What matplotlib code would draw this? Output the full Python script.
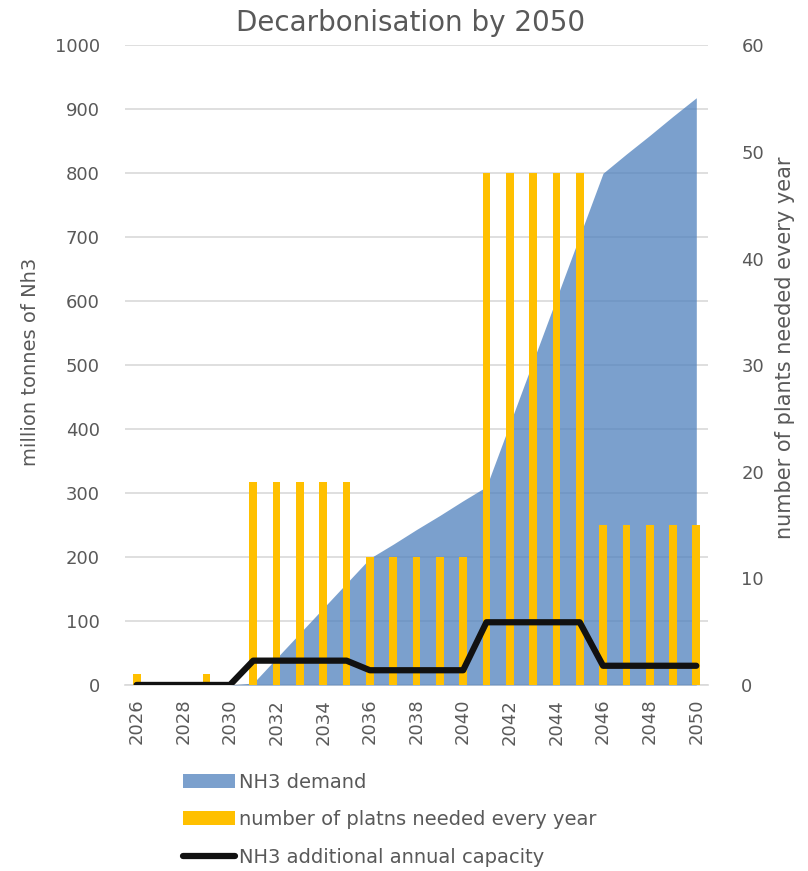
import numpy as np
import matplotlib.pyplot as plt
from matplotlib.patches import Patch
from matplotlib.lines import Line2D

# chart data
years = list(range(2026, 2051))
nh3_demand = [0, 0, 0, 0, 0,
              3, 42, 81, 120, 159,
              198, 220, 243, 265, 288,
              310, 408, 506, 604, 702,
              800, 830, 859, 889, 918]
plants_needed = [1, 0, 0, 1, 0,
                 19, 19, 19, 19, 19,
                 12, 12, 12, 12, 12,
                 48, 48, 48, 48, 48,
                 15, 15, 15, 15, 15]
added_capacity = [0, 0, 0, 0, 0,
                  38, 38, 38, 38, 38,
                  23, 23, 23, 23, 23,
                  98, 98, 98, 98, 98,
                  30, 30, 30, 30, 30]
year_ticks = list(range(2026, 2051, 2))

grey = "#595959"
blue = "#4F81BD"
orange = "#FFC000"

fig = plt.figure(figsize=(8.08, 8.71), dpi=100)
ax = fig.add_axes([0.1547, 0.2136, 0.7215, 0.7344])
ax2 = ax.twinx()
ax3 = ax.twinx()

# area - left axis
ax.fill_between(years, nh3_demand, 0, color=blue, alpha=0.75, linewidth=0, zorder=3)
ax.set_ylim(0, 1000)
ax.set_yticks(np.arange(0, 1001, 100))
ax.grid(axis="y", color="#D9D9D9", linewidth=1.2, zorder=0)
ax.set_axisbelow(True)
ax.set_xlim(2025.5, 2050.5)
ax.set_xticks(year_ticks)
ax.set_xticklabels([str(y) for y in year_ticks], rotation=90)
ax.tick_params(axis="y", length=0, pad=18, labelsize=13, labelcolor=grey)
ax.tick_params(axis="x", length=0, pad=10, labelsize=13, labelcolor=grey)
ax.set_ylabel("million tonnes of Nh3", fontsize=14, color=grey)
ax.yaxis.set_label_coords(-0.145, 0.505)
for s in ["top", "left", "right"]:
    ax.spines[s].set_visible(False)
ax.spines["bottom"].set_color("#D9D9D9")
ax.spines["bottom"].set_linewidth(1.2)

# bars - right axis
ax2.bar(years, plants_needed, width=0.33, color=orange, zorder=3)
ax2.set_ylim(0, 60)
ax2.set_yticks(np.arange(0, 61, 10))
ax2.tick_params(axis="y", length=0, pad=24, labelsize=13, labelcolor=grey)
ax2.set_ylabel("number of plants needed every year", fontsize=15, color=grey)
ax2.yaxis.set_label_coords(1.115, 0.527)
for s in ax2.spines.values():
    s.set_visible(False)

# line - left scale again, on top of the bars
ax3.plot(years, added_capacity, color="#111111", linewidth=4.5, solid_capstyle="round",
         solid_joinstyle="round")
ax3.set_ylim(0, 1000)
ax3.set_yticks([])
for s in ax3.spines.values():
    s.set_visible(False)

fig.suptitle("Decarbonisation by 2050", fontsize=20, color=grey, x=0.508, y=0.99)

handles = [Patch(facecolor=blue, alpha=0.75),
           Patch(facecolor=orange),
           Line2D([], [], color="#111111", linewidth=4.5, solid_capstyle="round")]
labels = ["NH3 demand", "number of platns needed every year", "NH3 additional annual capacity"]
fig.legend(handles, labels, loc="upper left", bbox_to_anchor=(0.226, 0.113),
           frameon=False, fontsize=14, labelcolor=grey, handlelength=2.7,
           handletextpad=0.2, labelspacing=0.95, borderaxespad=0, borderpad=0)

fig.savefig("out.png", dpi=100)
